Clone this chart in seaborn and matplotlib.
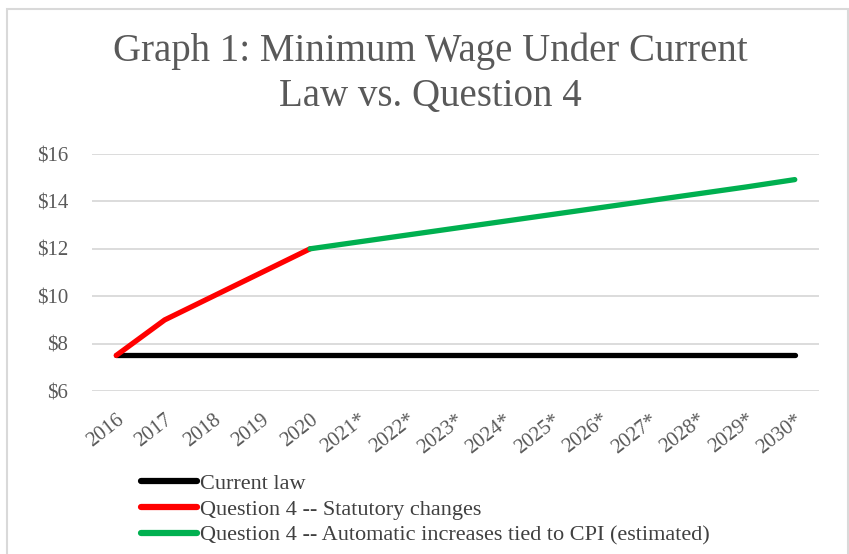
import numpy as np
import pandas as pd
import seaborn as sns
import matplotlib.pyplot as plt
from matplotlib.patches import Rectangle

# data
years = ['2016', '2017', '2018', '2019', '2020', '2021*', '2022*', '2023*',
         '2024*', '2025*', '2026*', '2027*', '2028*', '2029*', '2030*']
current_law = [7.5] * 15
statutory = [7.5, 9.0, 10.0, 11.0, 12.0]
cpi_est = [12.0, 12.29, 12.58, 12.87, 13.16, 13.45, 13.74, 14.03, 14.32, 14.61, 14.92]

series_names = ['Current law',
                'Question 4 -- Statutory changes',
                'Question 4 -- Automatic increases tied to CPI (estimated)']
series_colors = ['#000000', '#ff0000', '#00b050']

sns.set_theme(style='white')
plt.rcParams['font.family'] = ['Liberation Serif', 'DejaVu Serif']

fig = plt.figure(figsize=(8.49, 5.54), dpi=100)
ax = fig.add_axes([92 / 849, 1 - 391 / 554, (819 - 92) / 849, (391 - 154) / 554])

idx = np.arange(len(years))
sns.lineplot(x=idx, y=current_law, ax=ax, color=series_colors[0], lw=3.8,
             label=series_names[0], solid_capstyle='round')
sns.lineplot(x=idx[:5], y=statutory, ax=ax, color=series_colors[1], lw=3.8,
             label=series_names[1], solid_capstyle='round')
sns.lineplot(x=idx[4:], y=cpi_est, ax=ax, color=series_colors[2], lw=3.8,
             label=series_names[2], solid_capstyle='round')

ax.set_ylim(6, 16)
ax.set_yticks(range(6, 17, 2))
ax.set_yticklabels(['$%d' % v for v in range(6, 17, 2)])
ax.set_xlim(-0.5, len(years) - 0.5)
ax.set_xticks(idx)
ax.set_xticklabels(years, rotation=38, ha='right', rotation_mode='anchor')
ax.tick_params(axis='both', colors='#595959', labelsize=15, length=0)
ax.tick_params(axis='x', pad=14)
ax.tick_params(axis='y', pad=17)
ax.grid(axis='y', color='#d9d9d9', lw=1.3)
for s in ax.spines.values():
    s.set_visible(False)
ax.set_xlabel('')
ax.set_ylabel('')

fig.text(0.507, 1 - 74 / 554, 'Graph 1: Minimum Wage Under Current\nLaw vs. Question 4',
         ha='center', va='center', fontsize=28, color='#595959', linespacing=1.3)

leg = ax.legend(loc='upper left', bbox_to_anchor=(141 / 849, 1 - 473 / 554),
                bbox_transform=fig.transFigure, frameon=False, fontsize=16,
                handlelength=2.5, handletextpad=0.15, labelspacing=0.25,
                borderaxespad=0, borderpad=0)
for t in leg.get_texts():
    t.set_color('#404040')
for h in leg.get_lines():
    h.set_linewidth(4.5)

fig.patches.append(Rectangle((7 / 849, -0.05), (848 - 7) / 849, 1.05 - 9 / 554,
                             transform=fig.transFigure, fill=False,
                             edgecolor='#d9d9d9', lw=1.5))

fig.savefig('out.png', dpi=100)
